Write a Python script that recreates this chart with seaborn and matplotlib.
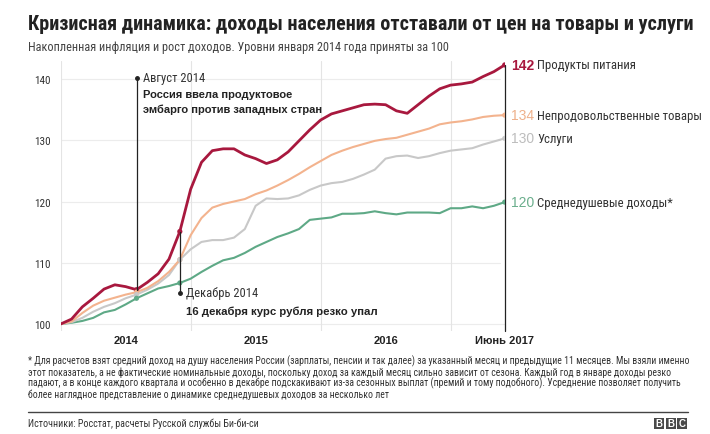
import matplotlib
matplotlib.use("Agg")
import matplotlib.pyplot as plt
from matplotlib import font_manager
from matplotlib.patches import Rectangle
import numpy as np
import pandas as pd
import seaborn as sns

# month index: 0 = January 2014 ... 41 = June 2017
months = list(range(42))

food = [100.0, 100.8, 102.8, 104.2, 105.7, 106.4, 106.1, 105.6, 106.8, 108.2,
        110.6, 115.1, 122.0, 126.4, 128.3, 128.6, 128.6, 127.6, 127.0, 126.2,
        126.8, 128.1, 129.9, 131.7, 133.3, 134.3, 134.8, 135.3, 135.8, 135.9,
        135.8, 134.8, 134.4, 135.8, 137.2, 138.4, 139.0, 139.2, 139.5, 140.4,
        141.2, 142.3]
nonfood = [100.0, 100.4, 101.8, 103.0, 103.8, 104.3, 104.8, 105.2, 105.9, 107.0,
           108.5, 110.5, 114.5, 117.3, 119.0, 119.6, 120.0, 120.4, 121.2, 121.8,
           122.6, 123.5, 124.5, 125.6, 126.6, 127.6, 128.3, 128.9, 129.4, 129.9,
           130.2, 130.4, 130.9, 131.4, 131.9, 132.6, 132.9, 133.1, 133.4, 133.8,
           134.0, 134.1]
services = [100.0, 100.3, 101.0, 102.0, 102.8, 103.4, 104.2, 104.8, 105.6, 106.6,
            108.0, 110.5, 112.2, 113.4, 113.7, 113.7, 114.1, 115.5, 119.3, 120.5,
            120.4, 120.5, 121.0, 121.9, 122.6, 123.0, 123.2, 123.7, 124.4, 125.2,
            127.0, 127.4, 127.5, 127.1, 127.4, 127.9, 128.3, 128.5, 128.7, 129.3,
            129.8, 130.3]
income = [100.0, 100.2, 100.5, 101.0, 101.9, 102.3, 103.2, 104.2, 105.0, 105.8,
          106.2, 106.7, 107.4, 108.5, 109.5, 110.4, 110.8, 111.6, 112.6, 113.4,
          114.2, 114.8, 115.5, 117.0, 117.2, 117.4, 118.0, 118.0, 118.1, 118.4,
          118.1, 117.9, 118.2, 118.2, 118.2, 118.1, 118.9, 118.9, 119.2, 118.9,
          119.3, 119.9]

series_names = ["Продукты питания", "Непродовольственные товары", "Услуги",
                "Среднедушевые доходы*"]
end_labels = ["142", "134", "130", "120"]
line_colors = ["#a8183e", "#f3b38e", "#c8c8c8", "#5ea986"]
text_colors = ["#a8183e", "#eeb08a", "#bdbdbd", "#6aae8c"]

year_labels = ["2014", "2015", "2016"]
year_pos = [6, 18, 30]
year_bounds = [12, 24, 36]
y_ticks = [100, 110, 120, 130, 140]
event_months = [7, 11]   # August 2014, December 2014

W, H = 710, 435


def pick_font(cands):
    have = {f.name for f in font_manager.fontManager.ttflist}
    for c in cands:
        if c in have:
            return c
    return "DejaVu Sans"


narrow = pick_font(["Liberation Sans Narrow", "Roboto Condensed", "Arial Narrow",
                    "Liberation Sans"])
wide = pick_font(["Liberation Sans", "Arial", "DejaVu Sans"])

sns.set_style("white")
plt.rcParams["font.family"] = [narrow, "DejaVu Sans"]

df = pd.concat([
    pd.DataFrame({"month": months, "value": vals, "series": name})
    for name, vals in zip(series_names, [food, nonfood, services, income])
], ignore_index=True)
palette = dict(zip(series_names, line_colors))

fig = plt.figure(figsize=(W / 100, H / 100), dpi=100)
px_per_month = 10.83
left_px, right_px = 60.7, 60.7 + 41 * px_per_month
top_px, bot_px = 62, 332
y_lo = 100 - (bot_px - 325) / 6.125
y_hi = 100 + (325 - top_px) / 6.125
ax = fig.add_axes([left_px / W, 1 - bot_px / H, (right_px - left_px) / W,
                   (bot_px - top_px) / H])

# grid
for y in y_ticks[1:]:
    ax.plot([0, 40.6], [y, y], color="#ececec", lw=0.8, zorder=0)
ax.plot([0, 41], [100, 100], color="#ececec", lw=0.8, zorder=0)
for x in [0] + year_bounds:
    ax.axvline(x, color="#e4e4e4", lw=0.8, zorder=0)

sns.lineplot(data=df, x="month", y="value", hue="series", palette=palette,
             hue_order=series_names[::-1], linewidth=1.5, legend=False, ax=ax,
             zorder=3)
for line in ax.get_lines():
    if line.get_color() == line_colors[0]:
        line.set_linewidth(2.0)
        line.set_zorder(4)

# markers on events and end
ev = df[df["month"].isin(event_months + [41])]
sns.scatterplot(data=ev, x="month", y="value", hue="series", palette=palette,
                s=14, linewidth=0, legend=False, ax=ax, zorder=5)

# event annotations
food_aug = food[7]
food_dec = food[11]
ax.plot([7, 7], [food_aug, 140.1], color="#222222", lw=0.9, zorder=6)
ax.plot([7], [140.1], "o", color="#222222", ms=2.5, zorder=6)
ax.plot([11, 11], [food_dec, 105.0], color="#222222", lw=0.9, zorder=6)
ax.plot([11], [105.0], "o", color="#222222", ms=2.5, zorder=6)
# end line
ax.plot([41, 41], [y_lo, food[-1]], color="#222222", lw=0.9, zorder=2,
        clip_on=False)

ax.text(7.6, 140.2, "Август 2014", fontsize=9, color="#333333", va="center")
ax.text(7.6, 136.3, "Россия ввела продуктовое\nэмбарго против западных стран",
        fontsize=8.0, fontweight="bold", family=wide, color="#222222",
        va="center", linespacing=1.5)
ax.text(11.6, 105.1, "Декабрь 2014", fontsize=9, color="#333333", va="center")
ax.text(11.6, 102.1, "16 декабря курс рубля резко упал", fontsize=8.2,
        fontweight="bold", family=wide, color="#222222", va="center")

# end labels
for lab, name, col, vals in zip(end_labels, series_names, text_colors,
                                [food, nonfood, services, income]):
    ax.text(41.6, vals[-1], lab, color=col, fontsize=10, family=wide,
            fontweight="bold" if lab == "142" else "normal", va="center",
            clip_on=False)
    ax.text(44.0, vals[-1], name, color="#333333", fontsize=9.2, va="center",
            clip_on=False)

ax.set_xlim(0, 41)
ax.set_ylim(y_lo, y_hi)
ax.set_yticks(y_ticks)
ax.set_yticklabels([str(t) for t in y_ticks], fontsize=8, color="#333333")
ax.tick_params(axis="y", length=0, pad=7)
ax.set_xticks([])
ax.set_xlabel("")
ax.set_ylabel("")
for s in ax.spines.values():
    s.set_visible(False)

for lab, pos in zip(year_labels, year_pos):
    ax.text(pos, y_lo - 1.45, lab, ha="center", va="center", fontsize=8,
            fontweight="bold", family=wide, color="#222222")
ax.text(41, y_lo - 1.45, "Июнь 2017", ha="center", va="center", fontsize=8,
        fontweight="bold", family=wide, color="#222222")

# titles
fig.text(28 / W, 1 - 25 / H,
         "Кризисная динамика: доходы населения отставали от цен на товары и услуги",
         fontsize=14.5, fontweight="bold", color="#222222", va="center")
fig.text(28 / W, 1 - 47 / H,
         "Накопленная инфляция и рост доходов. Уровни января 2014 года приняты за 100",
         fontsize=8.8, color="#444444", va="center")

footnote = [
    "* Для расчетов взят средний доход на душу населения России (зарплаты, пенсии и так далее) за указанный месяц и предыдущие 11 месяцев. Мы взяли именно",
    "этот показатель, а не фактические номинальные доходы, поскольку доход за каждый месяц сильно зависит от сезона. Каждый год в январе доходы резко",
    "падают, а в конце каждого квартала и особенно в декабре подскакивают из-за сезонных выплат (премий и тому подобного). Усреднение позволяет получить",
    "более наглядное представление о динамике среднедушевых доходов за несколько лет",
]
for i, line in enumerate(footnote):
    fig.text(28 / W, 1 - (361 + i * 11.3) / H, line, fontsize=7.0,
             color="#333333", va="center")

fig.add_artist(plt.Line2D([28 / W, 688 / W], [1 - 413 / H, 1 - 413 / H],
                          color="#444444", lw=1.0))
fig.text(28 / W, 1 - 424 / H, "Источники: Росстат, расчеты Русской службы Би-би-си",
         fontsize=7.2, color="#333333", va="center")

# BBC block logo
for i, ch in enumerate("BBC"):
    x0 = 654 + i * 11.7
    fig.add_artist(Rectangle((x0 / W, 1 - 430 / H), 10 / W, 11 / H,
                             transform=fig.transFigure, color="#4a4a4a", lw=0))
    fig.text((x0 + 5) / W, 1 - 424.5 / H, ch, fontsize=7, fontweight="bold",
             family=wide, color="white", ha="center", va="center")

fig.savefig("out.png", dpi=100)
